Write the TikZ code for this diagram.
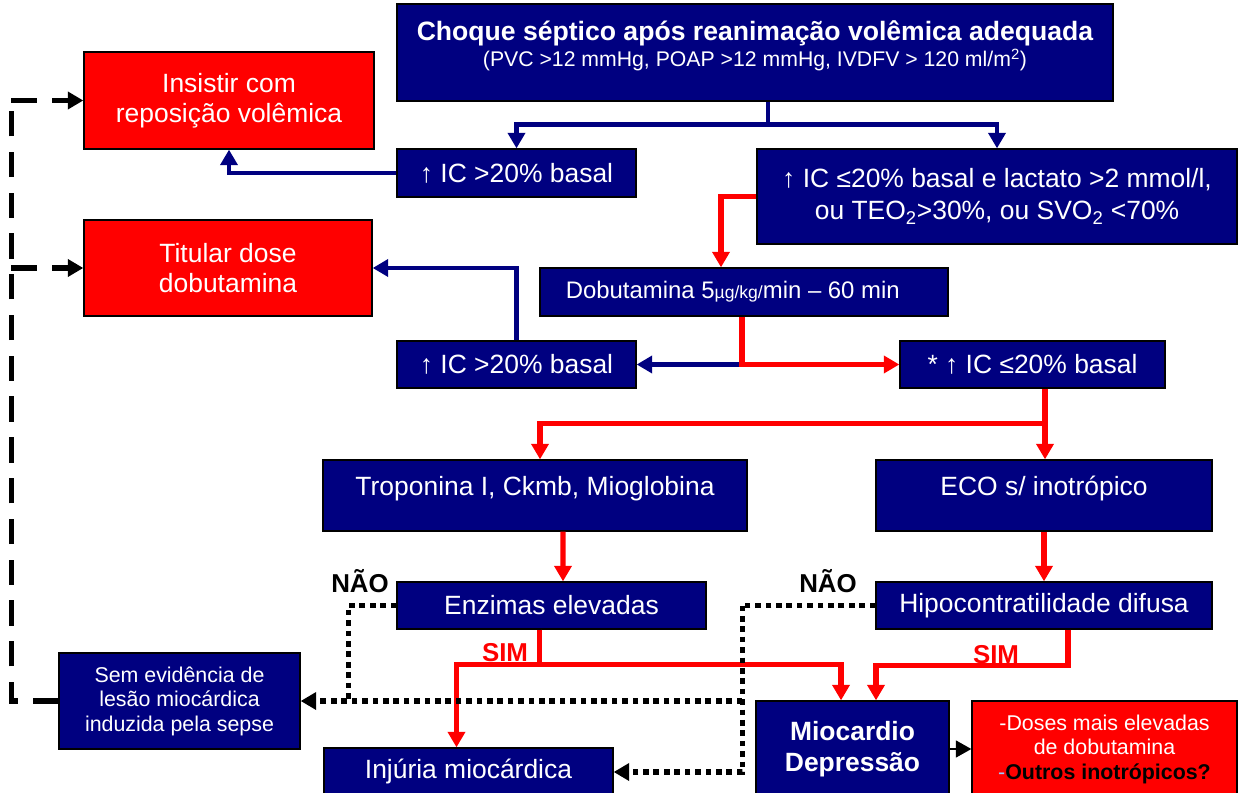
\documentclass[tikz,border=0pt]{standalone}
\usepackage{fontspec}
\setmainfont{Liberation Sans}
\usetikzlibrary{arrows.meta,positioning,calc}
\definecolor{flownavy}{HTML}{000080}
\definecolor{flowred}{HTML}{FF0000}
\definecolor{dashblue}{HTML}{99CCFF}
\newcommand{\mainsize}{\fontsize{18.8}{21.5}\selectfont}
\newcommand{\smallersize}{\fontsize{15.2}{17.4}\selectfont}

\begin{document}
\begin{tikzpicture}[
  x=0.025cm, y=-0.025cm,
  >={Triangle[length=11pt,width=12pt]},
  navybox/.style={
    draw=black,
    line width=0.9pt,
    fill=flownavy,
    text=white,
    align=center,
    inner sep=0pt,
    font=\mainsize
  },
  redbox/.style={navybox, fill=flowred},
  navyflow/.style={draw=flownavy, line width=3.4pt},
  redflow/.style={draw=flowred, line width=3.6pt},
  dotflow/.style={draw=black, line width=4pt, dash pattern=on 4pt off 3.4pt},
  dashflow/.style={draw=black, line width=4pt, dash pattern=on 18pt off 11pt},
  choicelabel/.style={font=\fontsize{18.4}{20}\selectfont\bfseries, inner sep=0pt}
]
  \useasboundingbox (0,0) rectangle (1240,793);

  % Top: septic shock after volume resuscitation
  \node[navybox, minimum width=17.9cm, minimum height=2.425cm] (choque) at (755,52.5) {};
  \node[text=white, align=center, inner sep=0pt] (choquetxt) at (755,46) {
    {\fontsize{18.9}{22}\selectfont\bfseries Choque séptico após reanimação volêmica adequada}\\[1pt]
    {\fontsize{15.1}{17}\selectfont (PVC >12 mmHg, POAP >12 mmHg, IVDFV > 120 ml/m\textsuperscript{2})}
  };

  % Left column: red action boxes
  \node[redbox, minimum width=7.25cm, minimum height=2.425cm] (insistir) at (229,100.5) {Insistir com\\reposição volêmica};
  \node[redbox, minimum width=7.2cm, minimum height=2.4cm] (titular) at (228,268) {Titular dose\\dobutamina};

  % Cardiac index after volume
  \node[navybox, minimum width=5.975cm, minimum height=1.2cm] (icA) at (516.5,173) {↑ IC >20\% basal};
  \node[navybox, minimum width=12cm, minimum height=2.375cm] (icB) at (997,196.5) {↑ IC ≤20\% basal e lactato >2 mmol/l,\\[1pt]ou TEO\textsubscript{2}>30\%, ou SVO\textsubscript{2} <70\%};

  % Dobutamine test
  \node[navybox, minimum width=10.2cm, minimum height=1.2cm] (dobuta) at (744,292) {\fontsize{17}{20}\selectfont Dobutamina 5{\fontsize{12.5}{15}\selectfont µg/kg/}min – 60 min\hspace{16pt}};
  \node[navybox, minimum width=5.975cm, minimum height=1.175cm] (icC) at (516.5,364.5) {↑ IC >20\% basal};
  \node[navybox, minimum width=6.625cm, minimum height=1.175cm] (icD) at (1032.5,364.5) {* ↑ IC ≤20\% basal};

  % Investigation
  \node[navybox, minimum width=10.6cm, minimum height=1.775cm, text depth=14pt] (tropo) at (535,495.5) {Troponina I, Ckmb, Mioglobina};
  \node[navybox, minimum width=8.4cm, minimum height=1.775cm, text depth=14pt] (eco) at (1044,495.5) {ECO s/ inotrópico};
  \node[navybox, minimum width=7.725cm, minimum height=1.175cm] (enzimas) at (551.5,605.5) {Enzimas elevadas};
  \node[navybox, minimum width=8.4cm, minimum height=1.175cm] (hipo) at (1044,605.5) {Hipocontratilidade difusa};

  % Outcomes
  \node[navybox, minimum width=6.025cm, minimum height=2.4cm, font=\smallersize] (sem) at (179.5,701) {Sem evidência de\\lesão miocárdica\\induzida pela sepse};
  \node[navybox, minimum width=7.225cm, minimum height=1.2cm] (injuria) at (468.5,772) {Injúria miocárdica};
  \node[navybox, minimum width=4.825cm, minimum height=2.4cm, font=\mainsize\bfseries] (mioc) at (852.5,749) {Miocardio\\[1pt]Depressão};
  \node[redbox, minimum width=6.625cm, minimum height=2.4cm, font=\smallersize] (doses) at (1104.5,749) {-Doses mais elevadas\\de dobutamina\\{\color{dashblue}-}{\color{black}\bfseries Outros inotrópicos?}};

  % Yes / no labels
  \node[choicelabel] (naoA) at (360,581) {NÃO};
  \node[choicelabel] (naoB) at (828,581) {NÃO};
  \node[choicelabel, text=flowred] (simA) at (505,653) {SIM};
  \node[choicelabel, text=flowred] (simB) at (996,655) {SIM};

  % Navy connectors
  \draw[navyflow] ($(choque.south)+(13,0)$) -- ++(0,23) coordinate (topsplit);
  \draw[navyflow,->] (topsplit) -| (icA.north);
  \draw[navyflow,->] (topsplit) -| (icB.north);
  \draw[navyflow,->] (icA.west) -| (insistir.south);
  \coordinate (dobsplit) at ($(dobuta.south |- icD.west)+(-2,0)$);
  \draw[navyflow,->] (dobsplit) -- (icC.east);
  \draw[navyflow,->] (icC.north) |- (titular.east);

  % Red connectors
  \draw[redflow,->] (icB.west) -| ($(dobuta.north)+(-23,0)$);
  \draw[redflow,->] ($(dobuta.south)+(-2,0)$) |- (icD.west);
  \draw[redflow] ($(icD.south)+(12.5,0)$) -- ++(0,35) coordinate (ecosplit);
  \draw[redflow,->] (ecosplit) -| ($(tropo.north)+(5,0)$);
  \draw[redflow,->] (ecosplit) -- (ecosplit |- eco.north);
  \draw[redflow,->] ($(tropo.south)+(28,0)$) -- ($(enzimas.north)+(11.5,0)$);
  \draw[redflow,->] (eco.south) -- (hipo.north);
  \draw[redflow] ($(enzimas.south)+(-12,0)$) -- ++(0,35) coordinate (simsplit);
  \draw[redflow,->] (simsplit) -| ($(injuria.north)+(-12,0)$);
  \draw[redflow,->] (simsplit) -| ($(mioc.north)+(-11.5,0)$);
  \draw[redflow,->] ($(hipo.south)+(24,0)$) -- ++(0,36) -| ($(mioc.north)+(23.5,0)$);

  % Dotted "no" connectors
  \draw[dotflow] (enzimas.west) -| ($(sem.east)+(48,0)$);
  \draw[dotflow] (hipo.west) -- ++(-133,0) coordinate (naocorner);
  \draw[dotflow,->] (naocorner) |- (injuria.east);
  \draw[dotflow,->] (naocorner |- sem.east) -- (sem.east);

  % Dashed feedback to the left
  \draw[dashflow] (sem.west) -- ++(-47,0) coordinate (dashcorner) -- (dashcorner |- insistir.west);
  \draw[dashflow,->] (dashcorner |- insistir.west) -- (insistir.west);
  \draw[dashflow,->] (dashcorner |- titular.west) -- (titular.west);

  \draw[line width=1.3pt,->] (mioc.east) -- (doses.west);

\end{tikzpicture}
\end{document}
